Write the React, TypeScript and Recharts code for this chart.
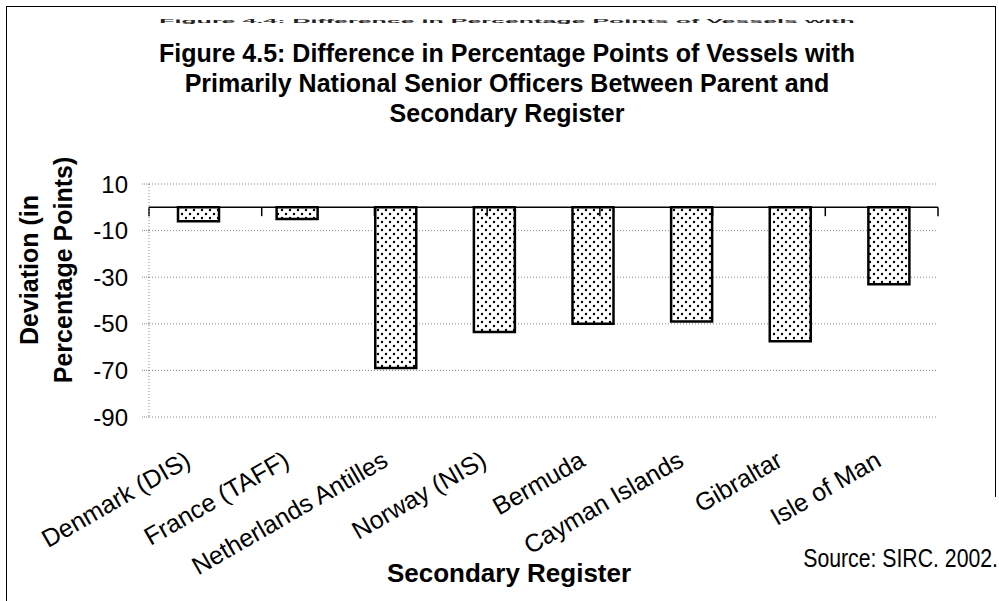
import React from "react";
import { BarChart, Bar, XAxis, YAxis, CartesianGrid, ReferenceLine } from "recharts";

const registers = [
  "Denmark (DIS)",
  "France (TAFF)",
  "Netherlands Antilles",
  "Norway (NIS)",
  "Bermuda",
  "Cayman Islands",
  "Gibraltar",
  "Isle of Man",
];
const deviation = [-6, -5, -69, -53.5, -50, -49, -57.5, -33];
const yTicks = [10, -10, -30, -50, -70, -90];

const titleLines = [
  "Figure 4.5: Difference in Percentage Points of Vessels with",
  "Primarily National Senior Officers Between Parent and",
  "Secondary Register",
];
const yTitleLines = ["Deviation (in", "Percentage Points)"];

const data = registers.map((name, i) => ({ name, value: deviation[i] }));
// category boundaries, used for the little tick marks on the zero line
const edges = registers.map((_, i) => i).concat(registers.length);

const font = "'Liberation Sans', Arial, sans-serif";

function CategoryTick(props: any) {
  const { x, y, payload } = props;
  return (
    <g transform={`translate(${x - 6},${y + 46})`}>
      <text textAnchor="end" transform="rotate(-30)" fontSize={25} fill="#000" fontFamily={font}>
        {payload.value}
      </text>
    </g>
  );
}

export default function App() {
  return (
    <div
      style={{
        position: "absolute",
        left: 0,
        top: 0,
        width: 999,
        height: 601,
        background: "#fff",
        overflow: "hidden",
        fontFamily: font,
      }}
    >
      {/* scanned page frame */}
      <div
        style={{
          position: "absolute",
          left: 6,
          top: 6,
          width: 988,
          height: 490,
          borderLeft: "1.5px solid #000",
          borderTop: "1.5px solid #000",
          borderRight: "1.5px solid #000",
        }}
      />
      <div style={{ position: "absolute", left: 6, top: 490, height: 120, borderLeft: "1.5px solid #000" }} />

      <BarChart
        width={999}
        height={601}
        data={data}
        margin={{ top: 184, right: 61, bottom: 0, left: 49 }}
        style={{ position: "absolute", left: 0, top: 0 }}
      >
        <defs>
          <pattern id="dots" width="8" height="8" patternUnits="userSpaceOnUse">
            <rect width="8" height="8" fill="#fff" />
            <circle cx="2" cy="2" r="1.2" fill="#000" />
            <circle cx="6" cy="6" r="1.2" fill="#000" />
          </pattern>
        </defs>
        <CartesianGrid vertical={false} stroke="#8a8a8a" strokeDasharray="1 2" />
        <XAxis
          dataKey="name"
          height={184}
          axisLine={false}
          tickLine={false}
          tickSize={0}
          interval={0}
          tick={<CategoryTick />}
        />
        <XAxis xAxisId="edges" type="number" domain={[0, registers.length]} hide />
        <YAxis
          domain={[-90, 10]}
          ticks={yTicks}
          width={100}
          interval={0}
          axisLine={{ stroke: "#8a8a8a", strokeDasharray: "1 2" }}
          tickLine={{ stroke: "#8a8a8a", strokeDasharray: "1 1" }}
          tickSize={7}
          tickMargin={14}
          tick={{ fontSize: 24, fill: "#000", fontFamily: font }}
        />
        <Bar
          dataKey="value"
          barSize={41}
          fill="url(#dots)"
          stroke="#000"
          strokeWidth={2.5}
          isAnimationActive={false}
        />
        <ReferenceLine y={0} stroke="#000" strokeWidth={1.5} />
        {edges.map((k) => (
          <ReferenceLine
            key={k}
            xAxisId="edges"
            segment={[
              { x: k, y: 0 },
              { x: k, y: -3.8 },
            ]}
            stroke="#000"
            strokeWidth={1.5}
          />
        ))}
      </BarChart>

      <svg
        width={999}
        height={601}
        style={{ position: "absolute", left: 0, top: 0, pointerEvents: "none" }}
        fontFamily={font}
        fill="#000"
      >
        {/* bottom edge of the previous figure's title, mostly hidden in the scan */}
        <text
          transform="translate(507,23) scale(1,0.18)"
          textAnchor="middle"
          fontSize={25}
          fontWeight="bold"
          fill="#222"
        >
          Figure 4.4: Difference in Percentage Points of Vessels with
        </text>

        {titleLines.map((t, i) => (
          <text key={t} x={507} y={62 + i * 30} textAnchor="middle" fontSize={25} fontWeight="bold">
            {t}
          </text>
        ))}

        {yTitleLines.map((t, i) => (
          <text
            key={t}
            transform={`translate(${38 + i * 34},270) rotate(-90)`}
            textAnchor="middle"
            fontSize={25}
            fontWeight="bold"
          >
            {t}
          </text>
        ))}

        <text x={509} y={582} textAnchor="middle" fontSize={26} fontWeight="bold">
          Secondary Register
        </text>
        <text transform="translate(998,567) scale(0.85,1)" textAnchor="end" fontSize={25}>
          Source: SIRC. 2002.
        </text>
      </svg>
    </div>
  );
}
